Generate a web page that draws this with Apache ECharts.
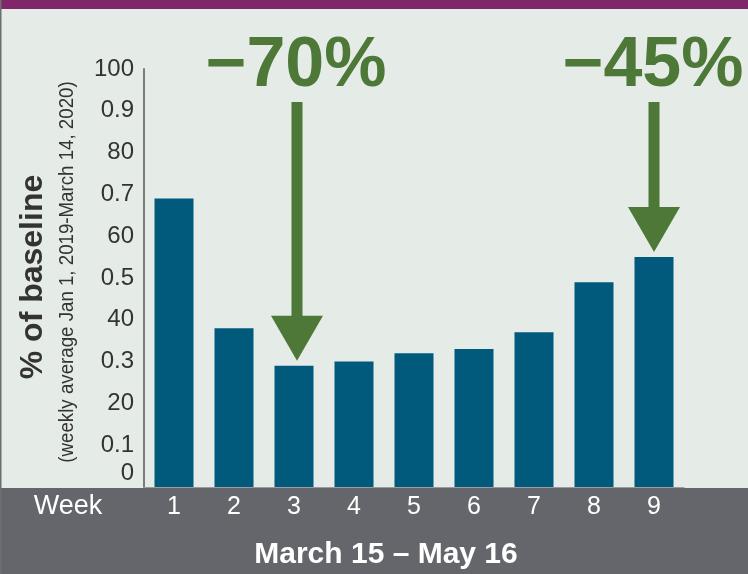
<!DOCTYPE html>
<html>
<head>
<meta charset="utf-8">
<script src="https://cdn.jsdelivr.net/npm/echarts@6/dist/echarts.min.js"></script>
<style>
  html, body { margin: 0; padding: 0; }
  #chart { width: 748px; height: 574px; }
</style>
</head>
<body>
<div id="chart"></div>
<script>
  // data
  var weeks = ['1', '2', '3', '4', '5', '6', '7', '8', '9'];
  var shareOfBaseline = [0.69, 0.38, 0.29, 0.30, 0.32, 0.33, 0.37, 0.49, 0.55];
  var yTickLabels = ['0', '0.1', '20', '0.3', '40', '0.5', '60', '0.7', '80', '0.9', '100'];
  var calloutWeeks = ['3', '9'];
  var calloutTexts = ['\u221270%', '\u221245%'];

  var GREEN = '#4e7837';
  var BAR = '#015a7c';
  var BAND = '#64666b';

  var myChart = echarts.init(document.getElementById('chart'));

  var option = {
    backgroundColor: '#e5ebe7',
    animation: false,
    grid: { left: 144, right: 64, top: 69, bottom: 87 },
    xAxis: {
      type: 'category',
      data: weeks,
      z: 10,
      axisLine: { lineStyle: { color: '#9a9c9e', width: 1 } },
      axisTick: { show: false },
      axisLabel: {
        color: '#ffffff',
        fontSize: 25,
        fontFamily: 'Liberation Sans',
        margin: 8
      }
    },
    yAxis: {
      type: 'value',
      min: 0,
      max: 1,
      interval: 0.1,
      z: 10,
      splitLine: { show: false },
      axisTick: { show: false },
      axisLine: { show: true, lineStyle: { color: '#7a7c7e', width: 2 } },
      axisLabel: {
        color: '#333333',
        fontSize: 24,
        fontFamily: 'Liberation Sans',
        margin: 10,
        formatter: function (v) {
          var s = yTickLabels[Math.round(v * 10)];
          return v === 0 ? '{zero|' + s + '}' : s;
        },
        rich: {
          zero: {
            fontSize: 24,
            fontFamily: 'Liberation Sans',
            color: '#333333',
            padding: [0, 0, 28, 0]
          }
        }
      }
    },
    series: [
      {
        name: 'share',
        type: 'bar',
        data: shareOfBaseline,
        barWidth: '65%',
        itemStyle: { color: BAR },
        z: 3
      }
    ]
  };

  myChart.setOption(option);

  // frame: purple top strip, grey bottom band, left edge, titles
  var elements = [
    { type: 'rect', shape: { x: 0, y: 488, width: 748, height: 86 }, style: { fill: BAND }, z: 1, silent: true },
    { type: 'rect', shape: { x: 0, y: 0, width: 748, height: 9 }, style: { fill: '#7f2769' }, z: 1, silent: true },
    { type: 'rect', shape: { x: 0, y: 0, width: 1.5, height: 574 }, style: { fill: '#6d6e71' }, z: 1, silent: true },
    {
      type: 'text', x: 33, y: 277, rotation: Math.PI / 2, z: 5,
      style: { text: '% of baseline', fill: '#333333', font: 'bold 32px Liberation Sans', align: 'center', verticalAlign: 'middle' }
    },
    {
      // narrow face is not installed, so squeeze the regular one along the text
      type: 'text', x: 67, y: 272, rotation: Math.PI / 2, scaleX: 0.89, z: 5,
      style: { text: '(weekly average Jan 1, 2019-March 14, 2020)', fill: '#333333', font: '21px Liberation Sans', align: 'center', verticalAlign: 'middle' }
    },
    {
      type: 'text', x: 68, y: 507, z: 5,
      style: { text: 'Week', fill: '#ffffff', font: '27px Liberation Sans', align: 'center', verticalAlign: 'middle' }
    },
    {
      type: 'text', x: 386, y: 555, z: 5,
      style: { text: 'March 15 \u2013 May 16', fill: '#ffffff', font: 'bold 30px Liberation Sans', align: 'center', verticalAlign: 'middle' }
    }
  ];

  // arrows pointing at the called-out bars
  calloutWeeks.forEach(function (wk, i) {
    var idx = weeks.indexOf(wk);
    var p = myChart.convertToPixel({ seriesIndex: 0 }, [idx, shareOfBaseline[idx]]);
    var cx = p[0] + (i === 0 ? 3 : 0);
    var tip = p[1] - 5;
    var headBase = tip - 45;
    elements.push(
      { type: 'rect', shape: { x: cx - 5.5, y: 102, width: 11, height: headBase - 102 + 1 }, style: { fill: GREEN }, z: 6 },
      { type: 'polygon', shape: { points: [[cx - 26, headBase], [cx + 26, headBase], [cx, tip]] }, style: { fill: GREEN }, z: 6 },
      {
        type: 'text', x: cx - 1, y: 67, z: 6,
        style: { text: calloutTexts[i], fill: GREEN, font: 'bold 70px Liberation Sans', align: 'center', verticalAlign: 'middle' }
      }
    );
  });

  myChart.setOption({ graphic: { elements: elements } });

  window.addEventListener('resize', function () {
    myChart.resize();
  });
</script>
</body>
</html>
